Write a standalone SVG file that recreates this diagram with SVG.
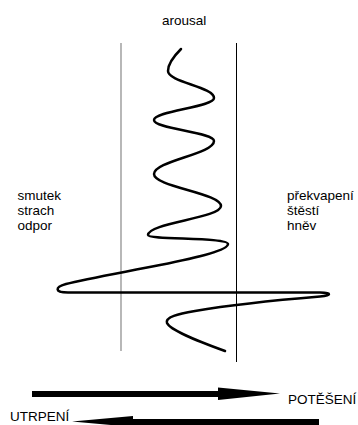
<svg xmlns="http://www.w3.org/2000/svg" width="358" height="425" viewBox="0 0 358 425">
<style>
text{font-family:"Liberation Sans",Arial,sans-serif;font-size:13.5px;fill:#000}
.curve{fill:none;stroke:#000;stroke-width:2.5;stroke-linecap:round;stroke-linejoin:round}
</style>
<rect width="358" height="425" fill="#fff"/>
<g id="label-arousal"><text x="162" y="25">arousal</text></g>
<g id="label-left"><text x="17.5" y="199.5">smutek</text><text x="17.5" y="214.5">strach</text><text x="17.5" y="229.5">odpor</text></g>
<g id="label-right"><text x="287" y="199.5">překvapení</text><text x="287" y="214.5">štěstí</text><text x="287" y="229.5">hněv</text></g>
<g id="bounds">
<line x1="121" y1="43" x2="121" y2="351" stroke="#888" stroke-width="1.2"/>
<line x1="236.5" y1="43" x2="236.5" y2="362" stroke="#000" stroke-width="1"/>
</g>
<g id="curve">
<path class="curve" d="M181,49 C174,56 168,63 168,71 C168,82 214,87 214,98 C214,107 154,111 154,120 C154,129 214,132 214,141 C214,154 154,161 154,174 C154,187 221,193 221,206 C221,218 148,223 148,235 C148,240 228,237 228,244 C228,250 200,257 160,265 C125,272 85,279 66,284 C55,287 54,292.5 68,292.5 L320,292.5 C332,292.5 332,295.5 320,296.5 C290,299 230,305 195,311 C178,314 165,317 167,323 C170,330 195,340 225,351"/>
</g>
<g id="connectors">
<g id="arrow-potes"><rect x="32" y="391" width="187" height="6"/><polygon points="218,387.5 280,393.5 218,400"/></g>
<g id="arrow-utrpeni"><rect x="132" y="419" width="187" height="6"/><polygon points="133,416 72,421.5 133,427"/></g>
</g>
<g id="label-potes"><text x="288" y="404">POTĚŠENÍ</text></g>
<g id="label-utrpeni"><text x="10" y="421">UTRPENÍ</text></g>
</svg>
